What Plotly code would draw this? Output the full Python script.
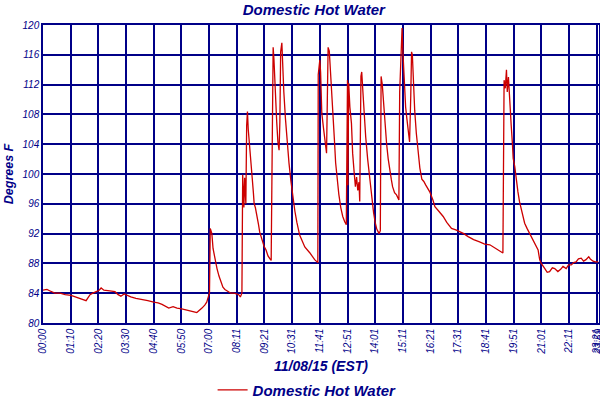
import plotly.graph_objects as go

# sample number of the logger (about one per minute) and temperature in F
sample = [0, 10, 18, 30, 43, 56, 71, 81, 93, 101, 109, 114, 119, 126, 134, 142, 147, 154, 169, 182,
          190, 197, 205, 212, 222, 235, 250, 265, 280, 291, 301, 311, 318, 329, 339, 351, 361, 371, 382, 389,
          394, 402, 409, 414, 418, 421, 423, 427, 430, 435, 440, 445, 450, 455, 460, 467, 475, 483, 490, 495,
          499, 503, 505, 508, 510, 513, 515, 517, 519, 522, 524, 527, 529, 532, 534, 537, 541, 545, 548, 553,
          559, 564, 569, 574, 577, 580, 582, 584, 586, 589, 591, 594, 597, 599, 601, 604, 606, 609, 613, 617,
          622, 627, 632, 637, 642, 649, 662, 675, 687, 695, 696, 700, 702, 705, 709, 714, 717, 719, 721, 724,
          727, 730, 733, 737, 740, 744, 748, 753, 758, 763, 767, 770, 771, 773, 776, 780, 783, 787, 790, 793,
          796, 799, 801, 804, 806, 809, 812, 816, 821, 825, 829, 833, 836, 840, 844, 848, 850, 853, 855, 858,
          862, 865, 869, 873, 877, 881, 884, 889, 894, 900, 902, 906, 908, 910, 914, 917, 920, 924, 927, 930,
          932, 934, 936, 940, 944, 948, 953, 958, 963, 968, 973, 978, 986, 991, 1001, 1012, 1021, 1033, 1044, 1054,
          1064, 1075, 1089, 1104, 1117, 1130, 1142, 1150, 1163, 1166, 1169, 1172, 1174, 1177, 1180, 1184, 1187, 1189, 1193, 1197,
          1201, 1205, 1211, 1218, 1224, 1231, 1237, 1243, 1252, 1256, 1260, 1269, 1275, 1281, 1288, 1294, 1302, 1309, 1315, 1323,
          1329, 1336, 1342, 1348, 1354, 1361, 1367, 1373, 1380, 1384, 1391, 1397, 1404]

temp_f = [84.4, 84.5, 84.3, 84.0, 84.0, 83.8, 83.7, 83.5, 83.3, 83.1, 83.0, 83.4, 83.8, 84.0, 84.2, 84.4, 84.7, 84.4, 84.3, 84.2,
          83.8, 83.6, 83.9, 83.7, 83.5, 83.3, 83.2, 83.0, 82.8, 82.7, 82.5, 82.2, 82.0, 82.2, 82.0, 81.9, 81.8, 81.7, 81.5, 81.4,
          81.6, 82.0, 82.4, 82.8, 83.5, 84.0, 92.7, 92.0, 90.0, 88.5, 87.3, 86.3, 85.5, 84.8, 84.5, 84.3, 84.0, 84.0, 83.9, 83.8,
          83.5, 84.0, 99.9, 95.5, 99.5, 96.0, 106.5, 108.4, 106.0, 104.2, 103.5, 101.5, 99.5, 97.5, 96.0, 95.5, 94.5, 93.2, 92.2, 91.2,
          90.3, 89.8, 89.0, 88.6, 88.4, 105.7, 117.0, 115.4, 112.5, 109.5, 107.0, 104.3, 103.2, 107.0, 116.4, 117.6, 114.0, 111.0, 107.5, 104.5,
          101.5, 99.0, 96.8, 95.0, 93.5, 91.8, 90.2, 89.4, 88.5, 88.1, 113.3, 115.3, 113.7, 108.2, 106.3, 103.7, 102.8, 110.0, 117.0, 116.5,
          114.0, 110.0, 108.2, 104.5, 101.5, 99.0, 97.3, 95.5, 94.3, 93.6, 93.2, 112.6, 98.5, 112.2, 109.0, 106.8, 102.8, 100.1, 98.3, 99.6,
          97.8, 98.9, 96.3, 113.1, 113.7, 111.0, 108.0, 105.0, 102.0, 100.0, 98.0, 96.2, 94.8, 93.5, 92.6, 92.2, 92.0, 92.4, 113.1, 112.0,
          109.0, 106.0, 104.0, 102.0, 100.3, 99.2, 98.3, 97.5, 97.2, 96.5, 111.0, 117.0, 119.6, 116.5, 112.0, 109.0, 107.5, 105.8, 104.3, 110.5,
          116.4, 116.0, 112.5, 108.5, 105.5, 103.0, 100.8, 99.3, 99.0, 98.5, 98.0, 97.6, 96.5, 95.6, 95.0, 94.3, 93.5, 92.7, 92.5, 92.3,
          92.0, 91.6, 91.2, 90.9, 90.6, 90.5, 90.1, 89.8, 89.4, 112.6, 111.5, 114.0, 111.0, 113.0, 109.5, 106.5, 104.1, 102.1, 101.0, 99.0,
          97.6, 96.3, 94.8, 93.4, 92.7, 92.0, 91.4, 90.7, 89.8, 88.5, 88.0, 87.3, 86.8, 86.9, 87.4, 87.3, 86.9, 87.2, 87.6, 87.3,
          87.8, 87.8, 88.1, 88.2, 88.6, 88.7, 88.3, 88.5, 88.9, 88.6, 88.3, 88.2, 88.2]

tick_pos = [0, 70, 140, 210, 280, 350, 420, 490, 560, 630, 700, 770, 840, 910, 980, 1050, 1120, 1190, 1260, 1330, 1400, 1406]
tick_text = ["00:00", "01:10", "02:20", "03:30", "04:40", "05:50", "07:00", "08:11", "09:21", "10:31", "11:41",
             "12:51", "14:01", "15:11", "16:21", "17:31", "18:41", "19:51", "21:01", "22:11", "23:21", "23:59"]

navy = "#000088"
fnt = "Liberation Sans"

fig = go.Figure()
fig.add_trace(go.Scatter(x=sample, y=temp_f, mode="lines", name="Domestic Hot Water",
                         line=dict(color="#cc0000", width=1.3)))

fig.update_layout(
    width=600, height=400,
    margin=dict(l=43, r=1, t=25, b=77, autoexpand=False),
    paper_bgcolor="white", plot_bgcolor="white",
    title=dict(text="Domestic Hot Water", x=0.523, xanchor="center", xref="container",
               y=0.975, yanchor="middle", yref="container",
               font=dict(family=fnt, size=15, color=navy, weight="bold", style="italic")),
    showlegend=True,
    legend=dict(orientation="h", x=0.475, xanchor="center", y=-0.225, yanchor="middle",
                itemwidth=30,
                font=dict(family=fnt, size=15, color=navy, weight="bold", style="italic")),
    xaxis=dict(range=[0, 1406], tickvals=tick_pos, ticktext=tick_text, tickangle=-90,
               tickfont=dict(family=fnt, size=10, color=navy, style="italic"),
               ticklabeloverflow="allow",
               showgrid=True, gridcolor=navy, gridwidth=1.5, showline=True, linecolor=navy,
               linewidth=1.5, mirror=True, zeroline=False, ticks="", automargin=False,
               title=dict(text="11/08/15 (EST)", standoff=7,
                          font=dict(family=fnt, size=14, color=navy, weight="bold", style="italic"))),
    yaxis=dict(range=[80, 120], dtick=4, tickfont=dict(family=fnt, size=10, color=navy, style="italic"),
               showgrid=True, gridcolor=navy, gridwidth=1.5, showline=True, linecolor=navy,
               linewidth=1.5, mirror=True, zeroline=False, ticks="", automargin=False,
               title=dict(text="Degrees F", standoff=6,
                          font=dict(family=fnt, size=12.5, color=navy, weight="bold", style="italic"))),
)

# page has an 8px body margin by default, drop it so the chart fills the window
fig.write_html("out.html", config={"displayModeBar": False},
               post_script="document.body.style.margin='0';")
